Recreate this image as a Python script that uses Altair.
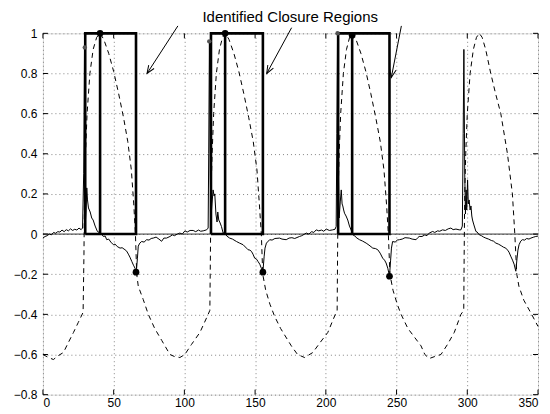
import altair as alt
import pandas as pd

# ---------------- data ----------------
# thin measured signal
sig_x = [0, 1.5, 3, 4.5, 6, 7.5, 9, 10.5, 12, 13.5, 15, 16.5, 18, 19.5, 21, 22.5, 24, 25.5, 27, 28,
         28.8, 29.4, 30.0, 30.5, 31.0, 31.5, 32.2, 33.4, 34.5, 35.5, 36.9, 38.5, 39.5, 40.4, 41.5, 42.7, 44,
         45.1, 46.5, 48, 49.8, 51, 52.5, 54.5, 56, 58, 59.2, 60.4, 61.5, 62.8, 64, 65.1, 66.0, 66.8, 67.4,
         68.5, 69.8, 71.5, 73.3, 75, 76.5, 78, 80, 82, 83.9, 85.5, 87.4, 89.8, 91.5, 93, 95, 96.8, 98.5,
         100.4, 102, 104, 106.2, 108, 110, 111.5, 113.3, 115.7, 116.8,
         117.2, 117.7, 118.3, 118.8, 119.5, 120.3, 121.0, 121.5, 122.3, 123.1, 123.6, 124.3, 125, 126.2,
         127.4, 128.6, 130, 132, 134, 136.8, 139, 141.5, 143.9, 145, 146.3, 147.4, 148.5, 149.7, 151, 152,
         153.3, 154.4, 155.5, 156.4, 157, 158, 160.3, 162, 164, 167.3, 169, 172, 174, 176, 178, 181.4, 183,
         184.5, 186.2, 188, 190, 191.5, 193.2, 195, 197, 198.5, 200.3, 202.5, 204.9, 206.5, 207.3,
         207.8, 208.3, 208.9, 209.4, 210.2, 210.9, 211.5, 212, 212.6, 213.2, 214.3, 215.5, 216.7, 217.9, 219,
         220.5, 222, 223.8, 226, 228.5, 230.5, 233.2, 235, 236.7, 238.4, 240.2, 241.5, 242.6, 243.8, 245,
         245.8, 246.4, 247.2, 249, 250.5, 252, 254, 256, 259, 261, 263.8, 265, 266, 268, 270, 271.5, 273.1,
         275.5, 277, 279, 280.5, 282.5, 284.5, 286.5, 288.4, 290, 292, 294.3, 295.5, 296.5,
         297.1, 297.6, 298.2, 298.7, 299.2, 299.6, 300.2, 300.7, 301.3, 302, 302.6, 303.2, 303.7, 304.5,
         306.1, 307, 308.4, 310, 311.5, 313.1, 315, 317, 318.5, 320.2, 322, 324, 325.5, 327.2, 328.5, 329.5,
         330.7, 332, 333.1, 334.3, 335.2, 335.8, 336.6, 337.8, 338.9, 340.5, 342, 343.6, 345, 347, 348.4, 350]
sig_y = [-0.02, -0.012, -0.008, 0.0, -0.004, 0.008, 0.004, 0.012, 0.01, 0.02, 0.012, 0.022, 0.016, 0.026,
         0.018, 0.024, 0.02, 0.03, 0.022, 0.03,
         0.3, 0.93, 0.06, 0.12, 0.23, 0.17, 0.13, 0.11, 0.08, 0.07, 0.04, 0.013, 0.01, -0.003, 0.0, -0.012,
         -0.01, -0.028, -0.025, -0.04, -0.053, -0.05, -0.062, -0.07, -0.068, -0.078, -0.085, -0.10, -0.115,
         -0.136, -0.155, -0.17, -0.19, -0.12, -0.06, -0.045, -0.037, -0.04, -0.028, -0.03, -0.022, -0.02,
         -0.015, -0.025, -0.036, -0.02, -0.02, -0.012, -0.004, -0.008, 0.0, 0.005, 0.0, 0.016, 0.01, 0.018,
         0.018, 0.012, 0.02, 0.014, 0.016, 0.021, 0.03,
         0.4, 0.96, 0.3, 0.08, 0.15, 0.22, 0.19, 0.2, 0.1, 0.06, 0.11, 0.07, 0.06, 0.038, 0.005, 0.005,
         -0.01, -0.02, -0.025, -0.037, -0.045, -0.053, -0.07, -0.078, -0.08, -0.086, -0.1, -0.12, -0.125,
         -0.136, -0.15, -0.17, -0.19, -0.11, -0.07, -0.045, -0.028, -0.03, -0.022, -0.02, -0.025, -0.028,
         -0.02, -0.018, -0.022, -0.012, -0.008, -0.002, 0.005, 0.0, 0.012, 0.008, 0.021, 0.016, 0.02, 0.014,
         0.025, 0.018, 0.021, 0.024, 0.038,
         0.5, 1.0, 0.3, 0.08, 0.16, 0.22, 0.15, 0.14, 0.12, 0.104, 0.09, 0.07, 0.04, 0.02, -0.003, -0.01,
         -0.02, -0.028, -0.035, -0.045, -0.055, -0.07, -0.072, -0.078, -0.095, -0.12, -0.13, -0.144, -0.17,
         -0.21, -0.13, -0.07, -0.037, -0.04, -0.03, -0.028, -0.025, -0.018, -0.02, -0.025, -0.028, -0.018,
         -0.012, -0.012, -0.004, -0.008, 0.005, 0.013, 0.008, 0.016, 0.014, 0.021, 0.018, 0.026, 0.03,
         0.022, 0.025, 0.021, 0.021, 0.04,
         0.5, 0.92, 0.3, 0.1, 0.22, 0.12, 0.27, 0.15, 0.17, 0.12, 0.14, 0.09, 0.07, 0.05, 0.013, 0.01,
         -0.003, -0.008, -0.015, -0.02, -0.025, -0.032, -0.035, -0.045, -0.05, -0.058, -0.065, -0.07, -0.08,
         -0.09, -0.11, -0.13, -0.15, -0.185, -0.12, -0.08, -0.053, -0.035, -0.028, -0.03, -0.022, -0.025,
         -0.02, -0.015, -0.012, -0.01]

# dashed reference curve
ref_x = [0, 4, 7.4, 11, 14.5, 18, 21.6, 25, 28.4,
         29.0, 29.4, 30.1, 31.2, 33.2, 35.5, 38, 40.4,
         43, 46.5, 50, 53.5, 57, 60, 62.5, 64.2, 65.4, 66.3, 67.4, 70.9, 74.5, 79, 84, 89.8, 93,
         96.8, 100.3, 105, 111, 116.8, 118,
         118.4, 118.8, 119.6, 120.7, 122.6, 124.8, 127, 129,
         131.5, 135, 138.5, 142, 145.5, 148.7, 151.3, 153, 154.4, 155.4, 157.5, 160.5, 163.8, 168,
         175.6, 180, 185, 190.8, 196, 201.4, 207.3, 208,
         208.3, 208.7, 209.4, 210.5, 212.4, 214.6, 216.8, 218.8,
         221.3, 224.8, 228.3, 231.8, 235.3, 238.5, 241.1, 242.9, 244.2, 245.3, 247.5, 250.5, 253.2, 258,
         267.3, 270, 273.1, 277, 281.4, 286, 290.8, 295.5, 297.5,
         297.8, 298.2, 298.9, 300, 302, 304.3, 306.5, 308.5,
         310.5, 313, 316.6, 320, 323.7, 328.4, 331.9, 333.6, 335, 336.5, 340, 345.5, 350]
ref_y = [-0.6, -0.615, -0.625, -0.605, -0.59, -0.54, -0.49, -0.44, -0.39,
         -0.1, 0.2, 0.4, 0.6, 0.8, 0.92, 0.98, 1.0,
         0.97, 0.9, 0.81, 0.7, 0.58, 0.46, 0.32, 0.15, 0.0, -0.2, -0.26, -0.326, -0.4, -0.47, -0.53, -0.6,
         -0.61, -0.615, -0.6, -0.55, -0.49, -0.4, -0.38,
         -0.1, 0.2, 0.4, 0.6, 0.8, 0.92, 0.98, 1.0,
         0.97, 0.9, 0.81, 0.7, 0.58, 0.46, 0.32, 0.15, 0.0, -0.2, -0.28, -0.35, -0.41, -0.47,
         -0.557, -0.6, -0.615, -0.59, -0.54, -0.49, -0.39, -0.38,
         -0.1, 0.2, 0.4, 0.6, 0.8, 0.92, 0.98, 1.0,
         0.97, 0.9, 0.81, 0.7, 0.58, 0.46, 0.32, 0.15, 0.0, -0.2, -0.28, -0.35, -0.4, -0.47,
         -0.557, -0.6, -0.62, -0.61, -0.6, -0.55, -0.49, -0.4, -0.38,
         -0.1, 0.2, 0.4, 0.6, 0.8, 0.92, 0.98, 1.0,
         0.98, 0.92, 0.8, 0.7, 0.6, 0.4, 0.2, 0.0, -0.2, -0.26, -0.33, -0.4, -0.46]

# identified closure regions (thick outlines)
region_start = [29.9, 118.8, 208.7]
region_mid = [40.4, 128.8, 218.6]
region_end = [65.8, 155.5, 245.0]

# detected points
peak_y = [1.0, 1.0, 0.99]
dip_y = [-0.19, -0.19, -0.21]
spike_x = [29.6, 117.6, 208.3]
spike_y = [0.93, 0.96, 1.0]

# annotation
label_text = "Identified Closure Regions"
label_x, label_y = 174.8, 1.079
arrow_x0 = [95.4, 175.8, 253.4]
arrow_y0 = [1.037, 1.028, 1.037]
arrow_x1 = [73.6, 158.2, 246.3]
arrow_y1 = [0.80, 0.80, 0.78]
arrow_angle = [32.9, 29.1, 10.9]

x_ticks = [0, 50, 100, 150, 200, 250, 300, 350]
y_ticks = [-0.8, -0.6, -0.4, -0.2, 0, 0.2, 0.4, 0.6, 0.8, 1]

# ---------------- build tables ----------------
W, H = 496, 362
FONT = "Liberation Sans"

sig = pd.DataFrame({"x": sig_x, "y": sig_y, "i": range(len(sig_x))})
ref = pd.DataFrame({"x": ref_x, "y": ref_y, "i": range(len(ref_x))})

rows = []
for k, (a, b, c) in enumerate(zip(region_start, region_mid, region_end)):
    for j, (px, py) in enumerate([(a, 0), (a, 1), (c, 1), (c, 0), (a, 0)]):
        rows.append({"x": px, "y": py, "seg": f"r{k}", "o": j})
    for j, (px, py) in enumerate([(b, 0), (b, 1)]):
        rows.append({"x": px, "y": py, "seg": f"m{k}", "o": j})
rect = pd.DataFrame(rows)

dots = pd.DataFrame({"x": region_mid + region_end, "y": peak_y + dip_y})
gdots = pd.DataFrame({"x": spike_x, "y": spike_y})
arrows = pd.DataFrame({"x": arrow_x0, "y": arrow_y0, "x2": arrow_x1, "y2": arrow_y1, "ang": arrow_angle})
xt = pd.DataFrame({"x": x_ticks})
yt = pd.DataFrame({"y": y_ticks})
zero = pd.DataFrame({"y": [0]})
lab = pd.DataFrame({"x": [label_x], "y": [label_y], "t": [label_text]})

xs = alt.Scale(domain=[0, 350], nice=False, zero=False)
ys = alt.Scale(domain=[-0.8, 1], nice=False, zero=False)

xaxis = alt.Axis(values=x_ticks, grid=True, gridDash=[1, 3], gridColor="#666", gridWidth=0.8,
                 ticks=False, domain=False, labelFont=FONT, labelFontSize=12, labelColor="black",
                 labelPadding=3, title=None)
yaxis = alt.Axis(values=y_ticks, grid=True, gridDash=[1, 3], gridColor="#666", gridWidth=0.8,
                 ticks=False, domain=False, labelFont=FONT, labelFontSize=12, labelColor="black",
                 labelPadding=6, format=".1~f", title=None)


def X(field="x"):
    return alt.X(f"{field}:Q", scale=xs, axis=xaxis, title=None)


def Y(field="y"):
    return alt.Y(f"{field}:Q", scale=ys, axis=yaxis, title=None)


base = alt.Chart(sig).mark_line(color="black", strokeWidth=1).encode(
    x=X(), y=Y(), order="i:Q",
)

dashed = alt.Chart(ref).mark_line(color="black", strokeWidth=1, strokeDash=[5, 4]).encode(
    x=X(), y=Y(), order="i:Q",
)

zline = alt.Chart(zero).mark_rule(color="black", strokeWidth=0.8).encode(y=Y())

thick = alt.Chart(rect).mark_line(color="black", strokeWidth=2.6).encode(
    x=X(), y=Y(), detail="seg:N", order="o:Q",
)

bdots = alt.Chart(dots).mark_point(filled=True, color="black", size=45, opacity=1).encode(x=X(), y=Y())
sdots = alt.Chart(gdots).mark_point(filled=True, color="#555", size=20, opacity=1).encode(x=X(), y=Y())

arrow_lines = alt.Chart(arrows).mark_rule(color="black", strokeWidth=1).encode(
    x=X(), y=Y(), x2="x2:Q", y2="y2:Q",
)
arrow_heads = alt.Chart(arrows).mark_point(
    shape="M-0.4,-1L0,0L0.4,-1", filled=False, color="black", size=256, strokeWidth=1, opacity=1
).encode(
    x=X("x2"), y=Y("y2"), angle=alt.Angle("ang:Q", scale=None),
)

label = alt.Chart(lab).mark_text(font=FONT, fontSize=15, align="center", baseline="middle",
                                 color="black").encode(x=X(), y=Y(), text="t:N")

tick_style = dict(color="black", strokeWidth=1)
xt_bottom = alt.Chart(xt).mark_rule(**tick_style).encode(x=X(), y=alt.value(H), y2=alt.value(H - 5))
xt_top = alt.Chart(xt).mark_rule(**tick_style).encode(x=X(), y=alt.value(0), y2=alt.value(5))
yt_left = alt.Chart(yt).mark_rule(**tick_style).encode(y=Y(), x=alt.value(0), x2=alt.value(5))
yt_right = alt.Chart(yt).mark_rule(**tick_style).encode(y=Y(), x=alt.value(W), x2=alt.value(W - 5))

chart = alt.layer(
    base, zline, dashed, thick, bdots, sdots, arrow_lines, arrow_heads, label,
    xt_bottom, xt_top, yt_left, yt_right,
).properties(
    width=W, height=H,
    autosize=alt.AutoSizeParams(type="none"),
    padding={"left": 35, "top": 25, "right": 4, "bottom": 20},
).configure_view(
    stroke="black", strokeWidth=1
).configure(background="white")

chart.save("out.html", embed_options={"renderer": "svg", "actions": False})
